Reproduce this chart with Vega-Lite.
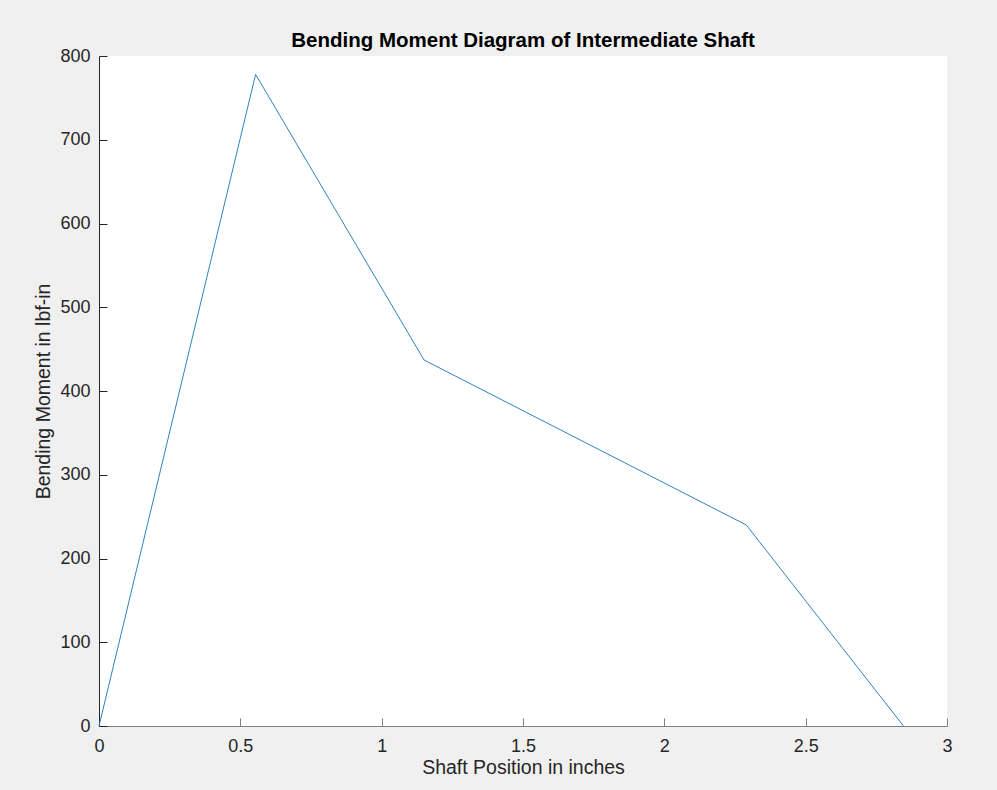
{
  "$schema": "https://vega.github.io/schema/vega-lite/v6.json",
  "width": 848,
  "height": 670,
  "autosize": {"type": "none"},
  "padding": {"left": 99, "top": 56, "right": 50, "bottom": 64},
  "background": "#f0f0f0",
  "title": {
    "text": "Bending Moment Diagram of Intermediate Shaft",
    "font": "Liberation Sans",
    "fontSize": 20.5,
    "fontWeight": "bold",
    "color": "#000000",
    "anchor": "middle",
    "offset": -4
  },
  "config": {
    "view": {"fill": "#ffffff", "stroke": null},
    "axis": {
      "grid": false,
      "labelFont": "Liberation Sans",
      "labelFontSize": 18,
      "labelColor": "#262626",
      "titleFont": "Liberation Sans",
      "titleFontSize": 19.5,
      "titleFontWeight": "normal",
      "titleColor": "#262626",
      "tickSize": -8,
      "tickColor": "#262626",
      "domainColor": "#262626"
    }
  },
  "data": {
    "values": [
      {"x": 0, "m": 0},
      {"x": 0.554, "m": 778},
      {"x": 1.15, "m": 437},
      {"x": 2.29, "m": 240},
      {"x": 2.846, "m": 0}
    ]
  },
  "mark": {"type": "line", "color": "#2f82c2", "strokeWidth": 1},
  "encoding": {
    "x": {
      "field": "x",
      "type": "quantitative",
      "scale": {"domain": [0, 3], "nice": false},
      "axis": {
        "title": "Shaft Position in inches",
        "values": [0, 0.5, 1, 1.5, 2, 2.5, 3],
        "format": "~g",
        "labelPadding": 19,
        "titlePadding": 3,
        "domainColor": "#7f7f7f",
        "tickColor": "#7f7f7f",
        "labelFlush": false
      }
    },
    "y": {
      "field": "m",
      "type": "quantitative",
      "scale": {"domain": [0, 800], "nice": false},
      "axis": {
        "title": "Bending Moment in lbf-in",
        "values": [0, 100, 200, 300, 400, 500, 600, 700, 800],
        "format": "d",
        "labelPadding": 17,
        "titlePadding": 6,
        "labelFlush": false
      }
    }
  }
}
